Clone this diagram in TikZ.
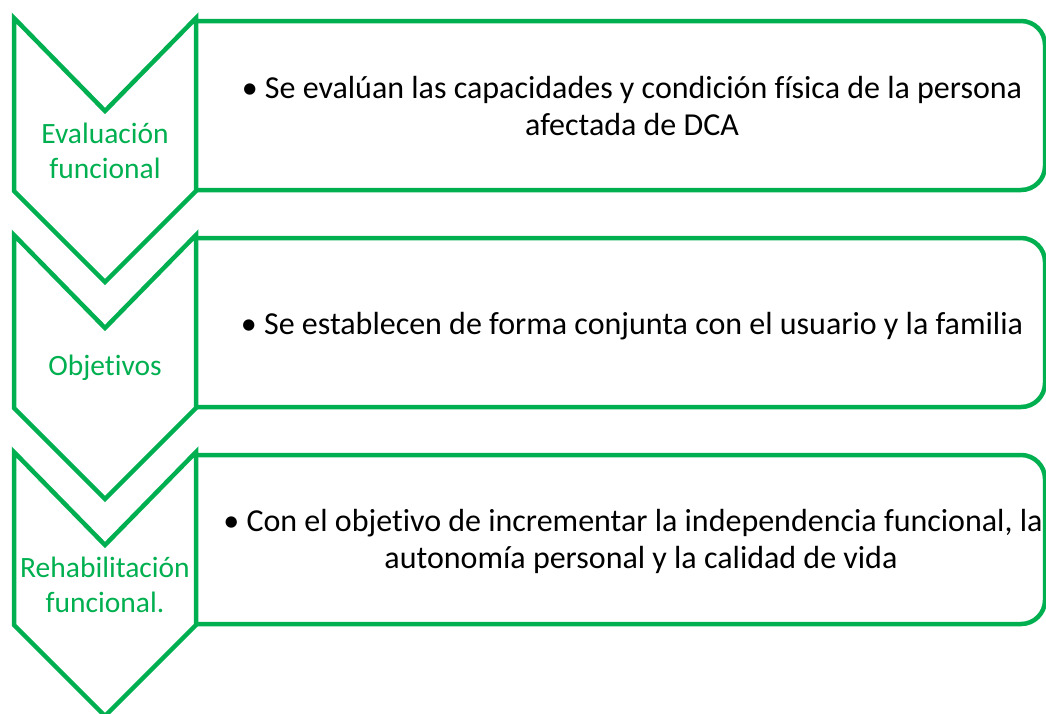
\documentclass[tikz,border=0pt]{standalone}
\usepackage{fontspec}
\setmainfont{Carlito}[RawFeature=-liga]
\definecolor{sgreen}{RGB}{0,176,80}
\tikzset{
  shapeline/.style={draw=sgreen, line width=4.5pt, line join=miter, fill=white},
  boxline/.style={draw=sgreen, line width=4.5pt, rounded corners=24pt},
  label/.style={text=sgreen, font=\fontsize{29.5}{35}\selectfont, align=center, inner sep=0pt},
  desc/.style={text=black, font=\fontsize{32}{37}\selectfont, align=center, inner sep=0pt}
}
\begin{document}
\begin{tikzpicture}[x=1pt,y=-1pt]
\useasboundingbox (0,0) rectangle (1046,713);
\foreach \o in {0,217,434}{
  \draw[boxline] (196,21+\o) -- (1045,21+\o) -- (1045,190+\o) -- (196,190+\o);
  \draw[shapeline] (14,18+\o) -- (105,111+\o) -- (196,18+\o) -- (196,191+\o) -- (105,282+\o) -- (14,191+\o) -- cycle;
}
\node[label] (l1) at (105,151) {Evaluación\\funcional};
\node[label] (l2) at (105,368) {Objetivos};
\node[label] (l3) at (105,585) {Rehabilitación\\funcional.};
\node[desc] (d1) at (632,106) {• Se evalúan las capacidades y condición física de la persona\\afectada de DCA};
\node[desc] (d2) at (632,326) {• Se establecen de forma conjunta con el usuario y la familia};
\node[desc] (d3) at (633,541) {• Con el objetivo de incrementar la independencia funcional, la\\\hspace*{16pt}autonomía personal y la calidad de vida};
\end{tikzpicture}
\end{document}
